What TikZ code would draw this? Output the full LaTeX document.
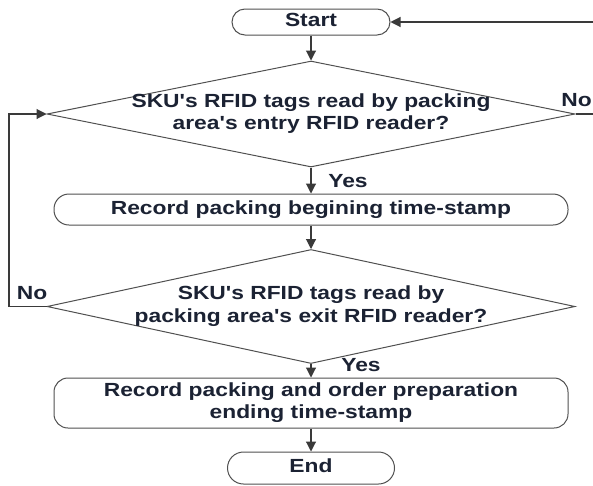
\documentclass[tikz,border=0pt]{standalone}
\usepackage{fontspec}
\usepackage{graphicx}
\usetikzlibrary{shapes.geometric,arrows.meta}
\newfontfamily\labfont{Liberation Sans}
\definecolor{inkc}{HTML}{1B2233}
\definecolor{linec}{HTML}{3A3A3A}
\definecolor{edgec}{HTML}{505050}
% wide bold label text, one or more centred lines
\newcommand{\wlab}[1]{\scalebox{1.2}[1]{\renewcommand{\arraystretch}{1}\begin{tabular}{@{}c@{}}#1\end{tabular}}}
\tikzset{
  x=1pt, y=1pt,
  lbl/.style={font=\labfont\bfseries\fontsize{19}{22.5}\selectfont, text=inkc, inner sep=0pt},
  termbox/.style={draw=edgec, line width=1pt, rectangle, inner sep=0pt},
  decbox/.style={draw=edgec, line width=1pt, diamond, inner sep=0pt},
  flow/.style={draw=linec, line width=1.1pt, -{Triangle[length=10pt,width=10pt]}},
  plain/.style={draw=linec, line width=1.1pt}
}
\begin{document}
\begin{tikzpicture}
\useasboundingbox[fill=white] (0,0) rectangle (593,-485);

% process boxes
\node[termbox, rounded corners=13pt, minimum width=158pt, minimum height=26pt] (start) at (311,-22) {};
\node[decbox, minimum width=528pt, minimum height=106pt] (d1) at (311,-114) {};
\node[termbox, rounded corners=15pt, minimum width=514pt, minimum height=31pt] (r1) at (311,-209.5) {};
\node[decbox, minimum width=528pt, minimum height=114pt] (d2) at (311,-306.5) {};
\node[termbox, rounded corners=14pt, minimum width=514pt, minimum height=50pt] (r2) at (311,-403) {};
\node[termbox, rounded corners=16pt, minimum width=167pt, minimum height=32pt] (end) at (311,-468) {};

% texts
\node[lbl] (tstart) at (start) {\wlab{Start}};
\node[lbl] (td1) at (d1) {\wlab{SKU\textquotesingle s RFID tags read by packing\\area\textquotesingle s entry RFID reader?}};
\node[lbl] (tr1) at (r1) {\wlab{Record packing begining time-stamp}};
\node[lbl] (td2) at (d2) {\wlab{SKU\textquotesingle s RFID tags read by\\packing area\textquotesingle s exit RFID reader?}};
\node[lbl] (tr2) at (r2) {\wlab{Record packing and order preparation\\ending time-stamp}};
\node[lbl] (tend) at (end) {\wlab{End}};

% branch labels
\node[lbl] (yes1) at (348,-183) {\wlab{Yes}};
\node[lbl] (yes2) at (361,-367) {\wlab{Yes}};
\node[lbl, anchor=east] (no1) at (592,-102) {\wlab{No}};
\node[lbl] (no2) at (32,-295) {\wlab{No}};

% main flow
\draw[flow] (start.south) -- (d1.north);
\draw[flow] (d1.south) -- (r1.north);
\draw[flow] (r1.south) -- (d2.north);
\draw[flow] (d2.south) -- (r2.north);
\draw[flow] (r2.south) -- (end.north);

% loops back
\coordinate (rloop) at (600,-114);
\coordinate (lloop) at (9,-306.5);
\draw[flow] (d1.east) -- (rloop) |- (start.east);
\draw[flow] (d2.west) -- (lloop) |- (d1.west);
\end{tikzpicture}
\end{document}
